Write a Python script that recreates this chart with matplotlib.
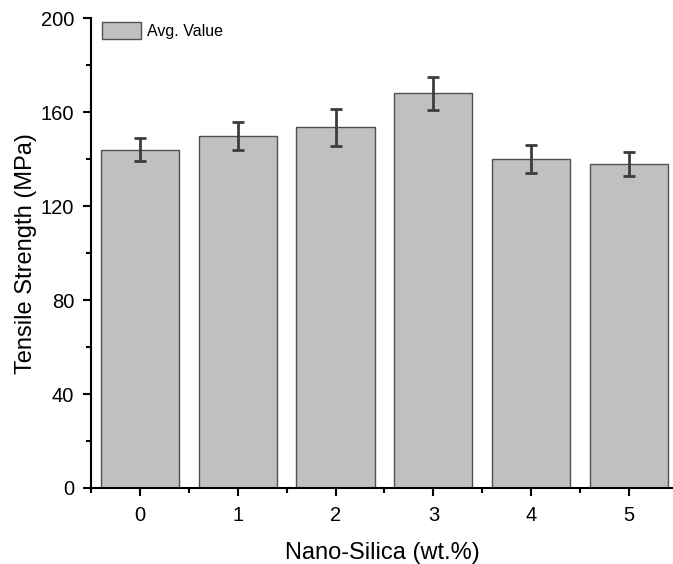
import numpy as np
import matplotlib.pyplot as plt
from matplotlib.ticker import MultipleLocator

plt.rcParams['font.family'] = ['Liberation Sans', 'DejaVu Sans']

# Data
silica = [0, 1, 2, 3, 4, 5]
strength = [144, 150, 153.5, 168, 140, 138]
strength_err = [5, 6, 8, 7, 6, 5]

fig = plt.figure(figsize=(6.73, 5.64), dpi=100)
ax = fig.add_axes([0.1352, 0.1348, 0.8648, 0.833])

ax.bar(silica, strength, width=0.8, color='#c0c0c0', edgecolor='#505050',
       linewidth=1.0, label='Avg. Value', zorder=2)
ax.errorbar(silica, strength, yerr=strength_err, fmt='none', ecolor='#3c3c3c',
            elinewidth=2.0, capsize=4.5, capthick=2.0, zorder=3)

ax.set_xlim(-0.5, 5.45)
ax.set_ylim(0, 200)
ax.yaxis.set_major_locator(MultipleLocator(40))
ax.yaxis.set_minor_locator(MultipleLocator(20))
ax.xaxis.set_major_locator(MultipleLocator(1))
ax.xaxis.set_minor_locator(MultipleLocator(0.5))

for s in ['top', 'right']:
    ax.spines[s].set_visible(False)
for s in ['left', 'bottom']:
    ax.spines[s].set_linewidth(1.5)

ax.tick_params(which='major', direction='out', length=6, width=1.5, labelsize=14.5, pad=7)
ax.tick_params(axis='y', which='major', pad=6)
ax.tick_params(which='minor', direction='out', length=3.5, width=1.5)

ax.set_xlabel('Nano-Silica (wt.%)', fontsize=17, labelpad=12)
ax.set_ylabel('Tensile Strength (MPa)', fontsize=17, labelpad=3)

ax.legend(loc='upper left', frameon=False, fontsize=11.5, handlelength=2.4,
          handleheight=1.2, handletextpad=0.4, borderaxespad=0.3,
          bbox_to_anchor=(0.0, 1.015))

fig.savefig('out.png', dpi=100)
